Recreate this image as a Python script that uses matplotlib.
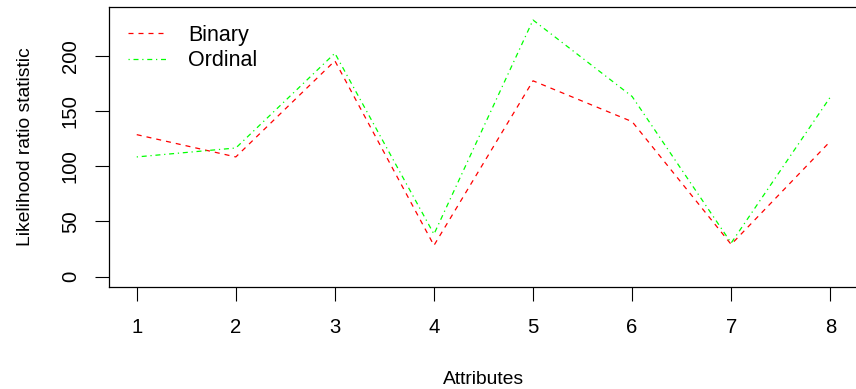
import matplotlib
matplotlib.use("Agg")
import matplotlib.pyplot as plt

plt.rcParams['font.family'] = ['Liberation Sans', 'DejaVu Sans']
plt.rcParams['lines.scale_dashes'] = False

# data
attributes = [1, 2, 3, 4, 5, 6, 7, 8]
binary = [128.7, 108.5, 195.6, 28.3, 177.5, 140.5, 29.2, 122.6]
ordinal = [108.5, 116.6, 202.5, 38.5, 232.6, 163.3, 30.5, 162.7]
yticks = [0, 50, 100, 150, 200]

W, H = 856, 389
fig = plt.figure(figsize=(W / 100, H / 100), dpi=100)
# axes box in pixels: left 109, right 858 (runs off the edge), top 7, bottom 287
ax = fig.add_axes([109 / W, (H - 287) / H, 749 / W, 280 / H])

ax.plot(attributes, binary, color='#FF0000', lw=0.9, dashes=(3.6, 3.6), label='Binary')
ax.plot(attributes, ordinal, color='#00FF00', lw=0.9, dashes=(0.9, 2.7, 3.6, 2.7), label='Ordinal')

ax.set_xlim(0.72, 8.28)
ax.set_ylim(-9.4, 244.4)
ax.set_xticks(attributes)
ax.set_yticks(yticks)
ax.tick_params(direction='out', length=10, width=0.8, labelsize=14.6, color='black')
ax.tick_params(axis='x', pad=12)
ax.tick_params(axis='y', pad=11)
for lab in ax.get_yticklabels():
    lab.set_rotation(90)
    lab.set_va('center')

for s in ax.spines.values():
    s.set_linewidth(0.9)

ax.set_xlabel('Attributes', fontsize=13.9, labelpad=24.5)
ax.set_ylabel('Likelihood ratio statistic', fontsize=13.9, labelpad=19.5)

ax.legend(loc='upper left', bbox_to_anchor=(19 / 749, 1 - 18 / 280), frameon=False,
          fontsize=15.5, handlelength=1.81, handletextpad=0.98, borderpad=0,
          borderaxespad=0, labelspacing=0.2)

fig.savefig('out.png', dpi=100)
